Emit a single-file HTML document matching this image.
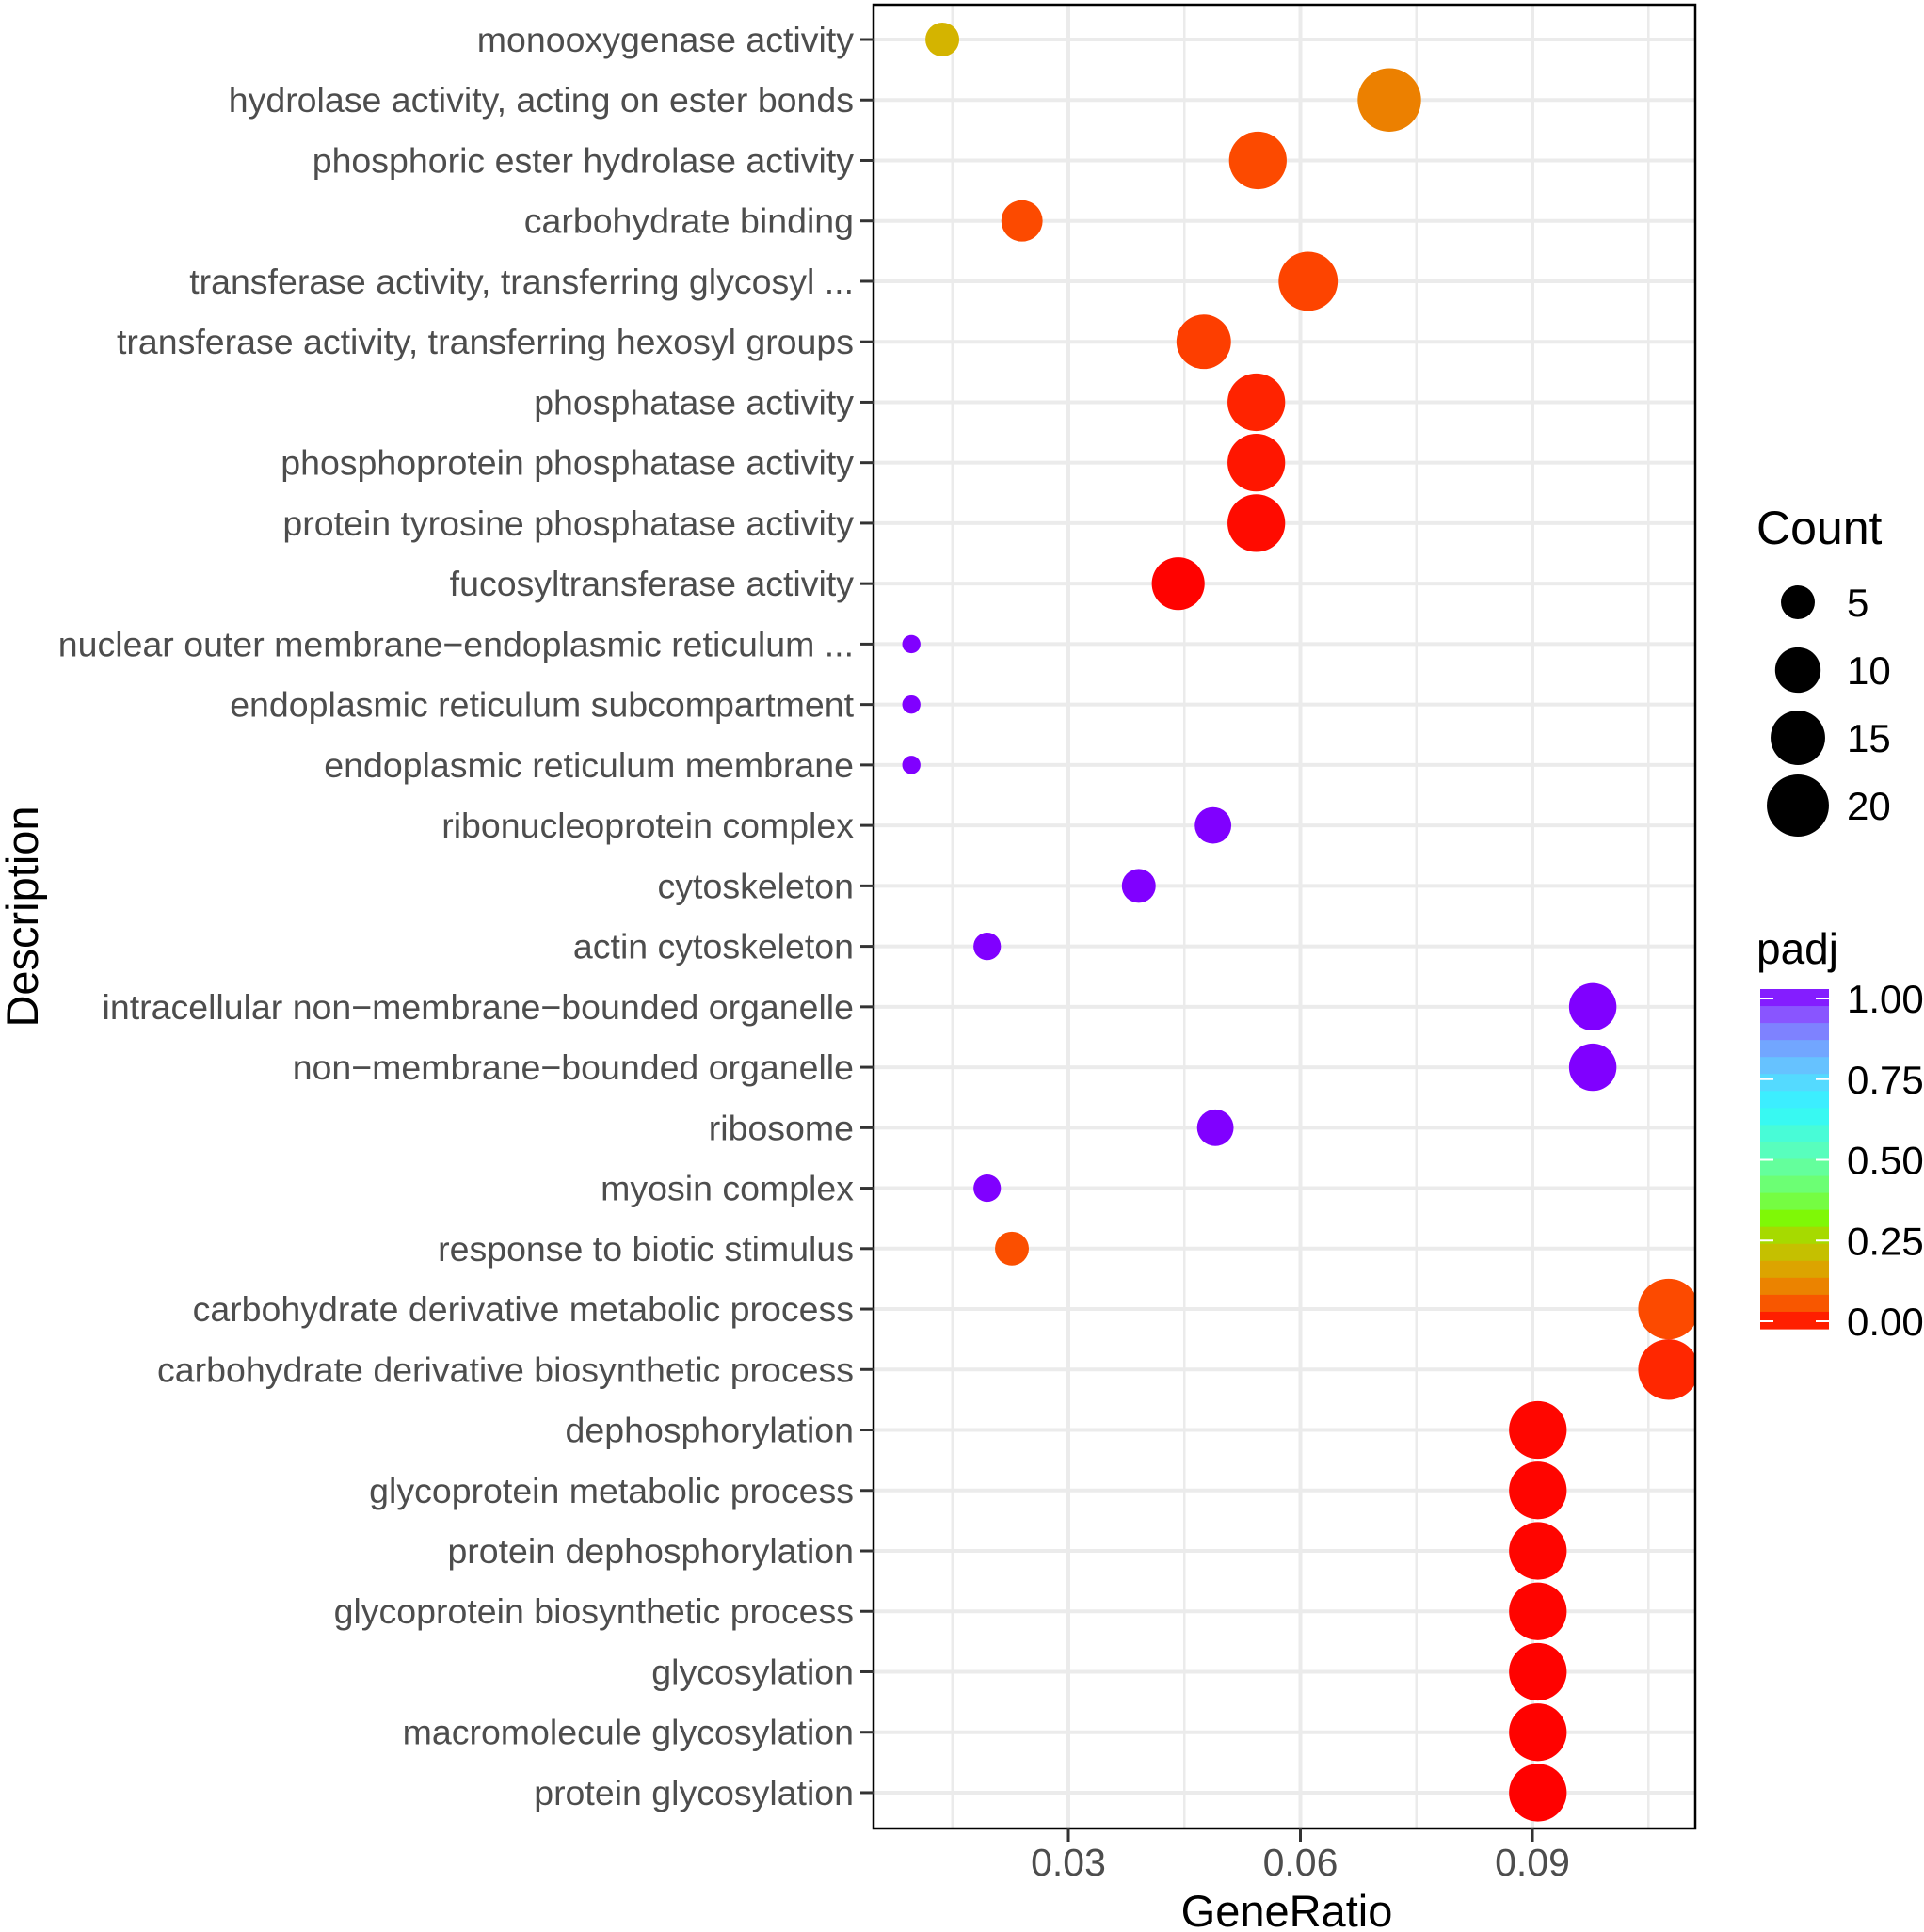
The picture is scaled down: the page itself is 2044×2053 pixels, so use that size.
<!DOCTYPE html>
<html><head><meta charset="utf-8">
<style>
html,body{margin:0;padding:0;background:#fff;}
svg{display:block;font-family:"Liberation Sans",Arial,sans-serif;}
</style></head>
<body>
<svg id="chart" width="2044" height="2053" viewBox="0 0 2044 2053" xmlns="http://www.w3.org/2000/svg">
<defs><clipPath id="panelClip"><rect x="928" y="5" width="873" height="1938"/></clipPath></defs>
<rect x="0" y="0" width="2044" height="2053" fill="#fff"/>
<g id="grid"></g>
<g id="points" clip-path="url(#panelClip)"></g>
<rect x="928" y="5" width="873" height="1938" fill="none" stroke="#000" stroke-width="2.5"/>
<g id="yaxis"></g>
<g id="xaxis"></g>
<text x="1367" y="2047" font-size="47" text-anchor="middle" fill="#000">GeneRatio</text>
<text x="0" y="0" font-size="47" text-anchor="middle" fill="#000" transform="translate(40,974) rotate(-90)">Description</text>
<g id="legend"></g>
</svg>
<script>
const categories = ["monooxygenase activity","hydrolase activity, acting on ester bonds","phosphoric ester hydrolase activity","carbohydrate binding","transferase activity, transferring glycosyl ...","transferase activity, transferring hexosyl groups","phosphatase activity","phosphoprotein phosphatase activity","protein tyrosine phosphatase activity","fucosyltransferase activity","nuclear outer membrane\u2212endoplasmic reticulum ...","endoplasmic reticulum subcompartment","endoplasmic reticulum membrane","ribonucleoprotein complex","cytoskeleton","actin cytoskeleton","intracellular non\u2212membrane\u2212bounded organelle","non\u2212membrane\u2212bounded organelle","ribosome","myosin complex","response to biotic stimulus","carbohydrate derivative metabolic process","carbohydrate derivative biosynthetic process","dephosphorylation","glycoprotein metabolic process","protein dephosphorylation","glycoprotein biosynthetic process","glycosylation","macromolecule glycosylation","protein glycosylation"];
const geneRatio = [0.0137,0.0715,0.0545,0.0240,0.0610,0.0475,0.0543,0.0543,0.0543,0.0442,0.0097,0.0097,0.0097,0.0487,0.0391,0.0195,0.0978,0.0978,0.0490,0.0195,0.0227,0.1076,0.1076,0.0907,0.0907,0.0907,0.0907,0.0907,0.0907,0.0907];
const counts = [5,21,17,8,18,15,17,17,17,14,1,1,1,6,5,3,11,11,6,3,5,19,19,17,17,17,17,17,17,17];
const padj = [0.2,0.12,0.06,0.06,0.055,0.05,0.028,0.018,0.009,0.002,1,1,1,1,1,1,1,1,1,1,0.065,0.06,0.032,0.005,0.004,0.004,0.003,0.002,0.002,0.001];
const xTicks = [0.03,0.06,0.09];
const xTickLabels = ["0.03","0.06","0.09"];
const xMinor = [0.015,0.045,0.075,0.105];
const sizeBreaks = [5,10,15,20];
const colorBreaks = [1.00,0.75,0.50,0.25,0.00];
const colorBreakLabels = ["1.00","0.75","0.50","0.25","0.00"];

const NS="http://www.w3.org/2000/svg";
function xs(v){return 1135+(v-0.03)*8217;}
function ys(i){return 42+i*64.24;}
function rs(c){return 3+6.7*Math.sqrt(c);}
const stops=[[0,[255,0,0]],[0.03,[255,37,0]],[0.06,[252,74,0]],[0.12,[236,128,0]],[0.2,[212,180,0]],[0.27,[170,215,0]],[0.32,[128,248,0]],[0.4,[112,255,96]],[0.5,[96,255,176]],[0.65,[48,248,255]],[0.75,[96,208,255]],[0.85,[120,152,255]],[0.93,[138,80,255]],[1,[128,0,255]]];
function cs(p){for(let k=1;k<stops.length;k++){if(p<=stops[k][0]){const a=stops[k-1],b=stops[k];const t=(p-a[0])/(b[0]-a[0]);const c=a[1].map((v,j)=>Math.round(v+(b[1][j]-v)*t));return `rgb(${c[0]},${c[1]},${c[2]})`;}}return "rgb(128,0,255)";}
function mk(tag,attrs,parent){const e=document.createElementNS(NS,tag);for(const k in attrs)e.setAttribute(k,attrs[k]);parent.appendChild(e);return e;}

const grid=document.getElementById('grid');
xMinor.forEach(v=>{const l=mk('line',{x1:xs(v),x2:xs(v),y1:5,y2:1943,stroke:'#ebebeb','stroke-width':2.5},grid);

});
xTicks.forEach(v=>{const l=mk('line',{x1:xs(v),x2:xs(v),y1:5,y2:1943,stroke:'#ebebeb','stroke-width':4},grid);

});
categories.forEach((c,i)=>{const l=mk('line',{x1:928,x2:1801,y1:ys(i),y2:ys(i),stroke:'#ebebeb','stroke-width':4},grid);

});

const yax=document.getElementById('yaxis');
categories.forEach((c,i)=>{
const t=mk('line',{x1:914,x2:928,y1:ys(i),y2:ys(i),stroke:'#333','stroke-width':3},yax);


const tx=mk('text',{x:907,y:ys(i)+13,'font-size':37.5,'text-anchor':'end',fill:'#4d4d4d'},yax);
tx.textContent=c;

});

const xax=document.getElementById('xaxis');
xTicks.forEach((v,i)=>{
const t=mk('line',{x1:xs(v),x2:xs(v),y1:1943,y2:1957,stroke:'#333','stroke-width':3},xax);


const tx=mk('text',{x:xs(v),y:1993,'font-size':41,'text-anchor':'middle',fill:'#4d4d4d'},xax);
tx.textContent=xTickLabels[i];

});

const pts=document.getElementById('points');
categories.forEach((c,i)=>{
const p=mk('circle',{cx:xs(geneRatio[i]),cy:ys(i),r:rs(counts[i]),fill:cs(padj[i])},pts);

});

const lg=document.getElementById('legend');
const ct=mk('text',{x:1866,y:578,'font-size':50,fill:'#000'},lg);
ct.textContent='Count';


sizeBreaks.forEach((s,i)=>{const y=640+i*72;
const c=mk('circle',{cx:1910,cy:y,r:rs(s),fill:'#000'},lg);


const t=mk('text',{x:1962,y:y+15,'font-size':42,fill:'#000'},lg);
t.textContent=String(s);

});
const pt=mk('text',{x:1866,y:1024,'font-size':46,fill:'#000'},lg);
pt.textContent='padj';


const barTop=1051,barBot=1412,nBands=20,bandH=(barBot-barTop)/nBands;
for(let k=0;k<nBands;k++){const v=1-(k+0.5)/nBands;
const b=mk('rect',{x:1870,y:barTop+k*bandH,width:73,height:bandH+0.6,fill:cs(v)},lg);

}
colorBreaks.forEach((v,i)=>{const y=1404-(v)*(1404-1061);
const a=mk('line',{x1:1870,x2:1884,y1:y,y2:y,stroke:'#fff','stroke-width':2},lg);


const b=mk('line',{x1:1929,x2:1943,y1:y,y2:y,stroke:'#fff','stroke-width':2},lg);


const t=mk('text',{x:1962,y:y+15,'font-size':42,fill:'#000'},lg);
t.textContent=colorBreakLabels[i];

});
</script>
</body></html>
